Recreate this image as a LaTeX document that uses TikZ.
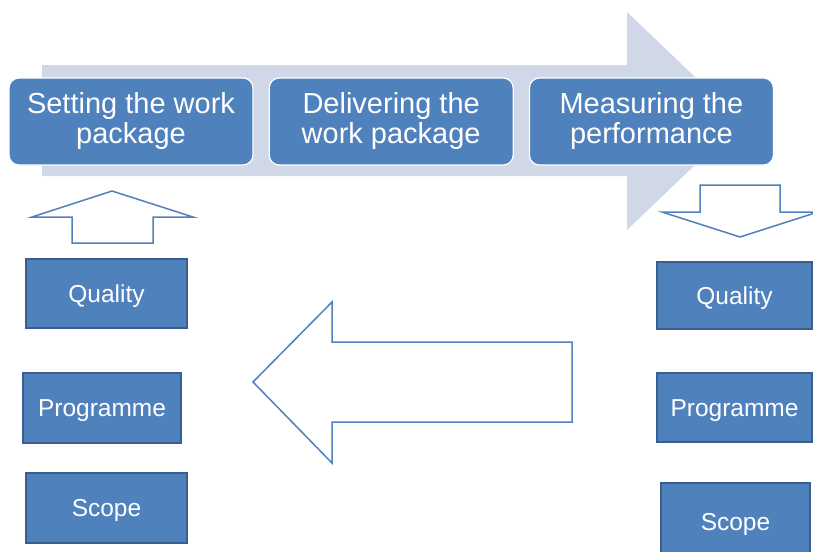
\documentclass[tikz,border=0pt]{standalone}
\usepackage{fontspec}
\setmainfont{Liberation Sans}
\usetikzlibrary{positioning}
\definecolor{boxblue}{HTML}{4F81BD}
\definecolor{boxedge}{HTML}{3A5F8E}
\definecolor{bandgrey}{HTML}{D0D8E8}
\tikzset{
  stage/.style={rounded corners=10pt, fill=boxblue, draw=white, line width=1.2pt,
    text=white, minimum width=244pt, minimum height=87pt, inner sep=0pt,
    align=center, font=\fontsize{29}{30}\selectfont},
  item/.style={fill=boxblue, draw=boxedge, line width=1.2pt, text=white,
    minimum height=69pt, inner sep=0pt, text height=17.6pt, text depth=0pt,
    font=\fontsize{24.5}{26}\selectfont},
  hollow/.style={draw=boxblue, fill=white, line width=1.5pt, line join=miter}
}
\begin{document}
\begin{tikzpicture}[x=1pt,y=-1pt]
\useasboundingbox (0,0) rectangle (813,551);
\clip (0,0) rectangle (813,551);
\fill[bandgrey] (42,65) -- (627,65) -- (627,12) -- (741,121) -- (627,230)
  -- (627,176) -- (42,176) -- cycle;
\node[stage] (set) at (131,121.5) {Setting the work\\package};
\node[stage, right=15pt of set] (deliver) {Delivering the\\work package};
\node[stage, right=15pt of deliver] (measure) {Measuring the\\performance};

\draw[hollow] (112,191) -- (193,217) -- (153,217) -- (153,243) -- (72,243)
  -- (72,217) -- (32,217) -- cycle;
\draw[hollow] (740,237) -- (818,212) -- (780,212) -- (780,185) -- (700,185)
  -- (700,212) -- (662,212) -- cycle;
\draw[hollow] (253,382) -- (332,302) -- (332,342) -- (572,342) -- (572,422)
  -- (332,422) -- (332,463) -- cycle;

\node[item, minimum width=161pt] (qualityL) at (106.5,293.5) {Quality};
\node[item, minimum width=158pt, minimum height=70pt] (programmeL) at (102,408) {Programme};
\node[item, minimum width=161pt, minimum height=70pt] (scopeL) at (106.5,508) {Scope};
\node[item, minimum width=155pt, minimum height=67pt] (qualityR) at (734.5,295.5) {Quality};
\node[item, minimum width=155pt] (programmeR) at (734.5,407.5) {Programme};
\node[item, minimum width=149pt, minimum height=77pt] (scopeR) at (735.5,521.5) {Scope};
\end{tikzpicture}
\end{document}
